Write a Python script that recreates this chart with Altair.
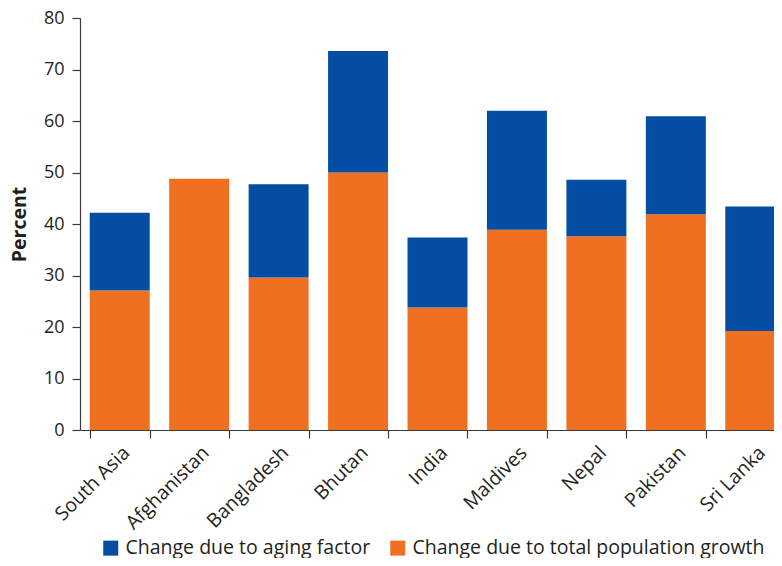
import altair as alt
import pandas as pd

countries = ["South Asia", "Afghanistan", "Bangladesh", "Bhutan", "India",
             "Maldives", "Nepal", "Pakistan", "Sri Lanka"]
population_growth = [27.1, 48.8, 29.6, 50.0, 23.8, 38.9, 37.6, 41.9, 19.2]
aging_factor = [15.1, 0.0, 18.1, 23.6, 13.6, 23.1, 11.0, 19.0, 24.2]

series_names = ["Change due to aging factor", "Change due to total population growth"]
series_colors = ["#034EA2", "#F07022"]

rows = []
for c, p, a in zip(countries, population_growth, aging_factor):
    rows.append({"country": c, "series": series_names[1], "value": p, "order": 0})
    rows.append({"country": c, "series": series_names[0], "value": a, "order": 1})
df = pd.DataFrame(rows)

FONT = "Open Sans"
TEXT = "#231F20"
AX = "#3a3a3a"

chart = alt.Chart(df).mark_bar().encode(
    x=alt.X("country:N", sort=countries, title=None,
            scale=alt.Scale(paddingInner=0.245, paddingOuter=0.1225, range=[0, 715]),
            axis=alt.Axis(labelAngle=-45, labelFontSize=19.5, labelFont=FONT,
                          labelColor=TEXT, tickSize=8, tickColor=AX, tickWidth=1.2,
                          domainColor=AX, domainWidth=1.2, labelPadding=5,
                          tickBand="extent")),
    y=alt.Y("value:Q", stack="zero", title="Percent",
            scale=alt.Scale(domain=[0, 80]),
            axis=alt.Axis(values=[0, 10, 20, 30, 40, 50, 60, 70, 80], grid=False,
                          labelFontSize=18, labelFont=FONT, labelColor=TEXT,
                          tickSize=8, labelPadding=8, tickColor=AX, tickWidth=1.2,
                          domainColor=AX, domainWidth=1.2, titleFont=FONT, titleFontSize=19.5,
                          titleFontWeight="bold", titleColor=TEXT, titlePadding=14)),
    color=alt.Color("series:N",
                    scale=alt.Scale(domain=series_names, range=series_colors),
                    legend=alt.Legend(orient="none", legendX=21, legendY=520,
                                      direction="horizontal", title=None, padding=0,
                                      symbolType="square", symbolSize=225,
                                      symbolStrokeWidth=0, labelOffset=5,
                                      labelFont=FONT, labelFontSize=19.5, labelColor=TEXT,
                                      columnPadding=17, labelLimit=500)),
    order=alt.Order("order:Q", sort="ascending"),
).properties(
    width=694, height=412,
    autosize=alt.AutoSizeParams(type="none"),
    padding={"left": 72, "top": 10, "right": 0, "bottom": 128},
).configure_view(stroke=None)

chart.save("out.html", embed_options={"renderer": "svg", "actions": False})
